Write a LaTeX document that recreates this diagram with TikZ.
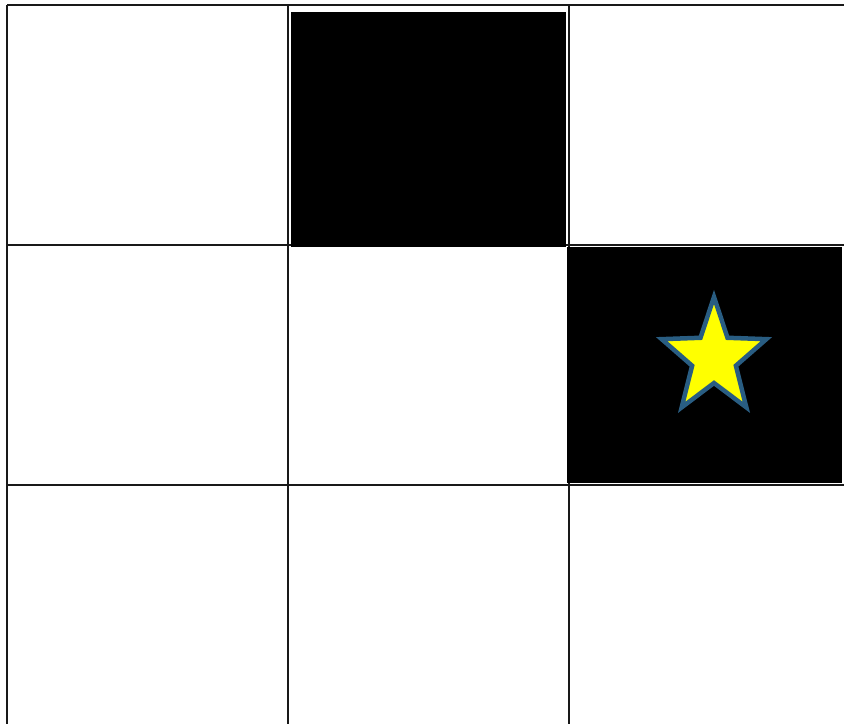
\documentclass[tikz,border=0pt]{standalone}
\usepackage{tikz}
\definecolor{starblue}{RGB}{41,93,130}
\definecolor{staryellow}{RGB}{255,255,0}
\tikzset{
  gridline/.style={line width=2pt, draw=black!90},
  cellfill/.style={fill=black, draw=none},
  starstyle/.style={fill=staryellow, draw=starblue, line width=4.5pt, line join=miter, miter limit=10}
}
\begin{document}
\begin{tikzpicture}[x=1pt,y=-1pt]
\useasboundingbox (0,0) rectangle (844,724);
\fill[white] (0,0) rectangle (844,724);
% grid lines
\draw[gridline] (7,5) -- (844,5);
\draw[gridline] (7,245) -- (844,245);
\draw[gridline] (7,485) -- (844,485);
\draw[gridline] (7,5) -- (7,724);
\draw[gridline] (288,5) -- (288,724);
\draw[gridline] (569,5) -- (569,724);
% black cells
\fill[cellfill] (291,12) rectangle (566,247);
\fill[cellfill] (567,247) rectangle (842,483);
% star
\draw[starstyle]
  ({714+55*cos(90)},{358-61*sin(90)}) --
  ({714+23*cos(126)},{358-25*sin(126)}) --
  ({714+55*cos(162)},{358-61*sin(162)}) --
  ({714+23*cos(198)},{358-25*sin(198)}) --
  ({714+55*cos(234)},{358-61*sin(234)}) --
  ({714+23*cos(270)},{358-25*sin(270)}) --
  ({714+55*cos(306)},{358-61*sin(306)}) --
  ({714+23*cos(342)},{358-25*sin(342)}) --
  ({714+55*cos(18)},{358-61*sin(18)}) --
  ({714+23*cos(54)},{358-25*sin(54)}) -- cycle;
\end{tikzpicture}
\end{document}
